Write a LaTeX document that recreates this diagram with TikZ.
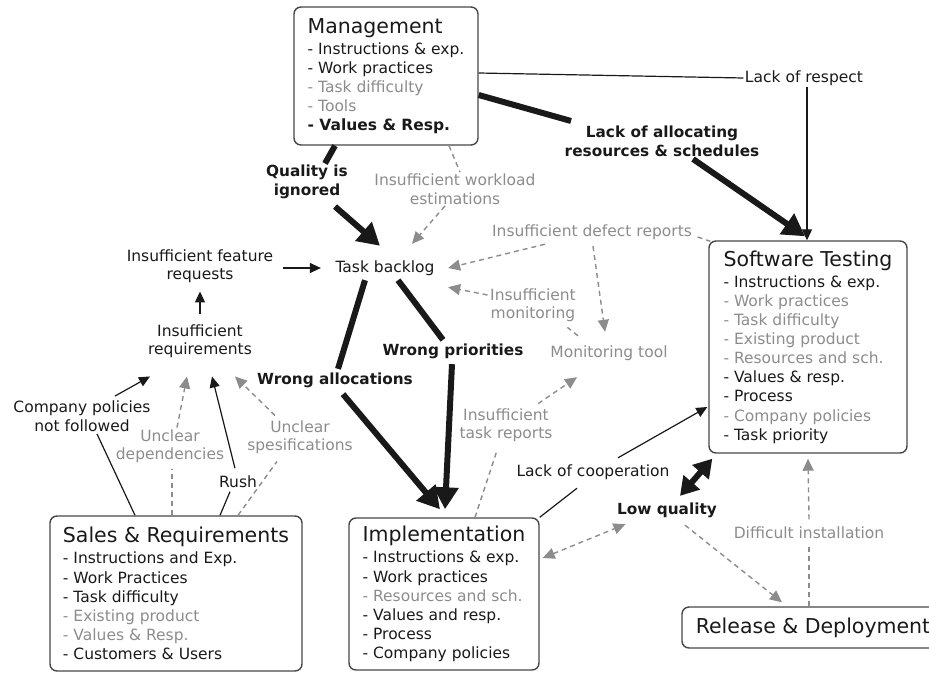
\documentclass[tikz,border=0pt]{standalone}
\usepackage{fontspec}
\setmainfont{DejaVu Sans}
\usetikzlibrary{arrows.meta,calc}

\definecolor{ink}{RGB}{25,25,25}
\definecolor{soft}{RGB}{140,140,140}
\definecolor{frame}{RGB}{70,70,70}

\begin{document}
\begin{tikzpicture}[x=1pt,y=-1pt,
  box/.style={draw=frame, line width=1.4pt, rounded corners=7pt, align=left,
    inner sep=0pt, text=ink, font=\fontsize{15.5}{19.1}\selectfont},
  lbl/.style={align=center, inner sep=1.5pt, text=ink, font=\fontsize{15.5}{18.5}\selectfont},
  glbl/.style={lbl, text=soft},
  blbl/.style={align=center, inner sep=1.5pt, text=ink, font=\fontsize{15.3}{18.8}\selectfont\bfseries},
  thin/.style={draw=ink, line width=1.2pt},
  thinarr/.style={thin, -{Triangle[length=11pt,width=10pt]}},
  gdash/.style={draw=soft, line width=1.4pt, dash pattern=on 5pt off 4pt},
  gdarr/.style={gdash, -{Triangle[length=12pt,width=11pt]}},
  gdboth/.style={gdash, {Triangle[length=12pt,width=11pt]}-{Triangle[length=12pt,width=11pt]}},
  heavy/.style={draw=ink, line width=6pt},
  heavyarr/.style={heavy, -{Triangle[length=22pt,width=24pt]}},
  heavyboth/.style={heavy, {Triangle[length=18pt,width=21pt]}-{Triangle[length=18pt,width=21pt]}}
]
\useasboundingbox (0,0) rectangle (929,672);

% ---- actor boxes ----
\node[box, minimum width=184pt, minimum height=138pt] (mgmt) at (386,76)
  {{\fontsize{20.5}{24}\selectfont Management}\\[2pt]
   - Instructions \& exp.\\
   - Work practices\\
   \textcolor{soft}{- Task difficulty}\\
   \textcolor{soft}{- Tools}\\
   \textbf{- Values \& Resp.}};

\node[box, minimum width=198pt, minimum height=212pt] (testing) at (808,347)
  {{\fontsize{20.5}{24}\selectfont Software Testing}\\[2pt]
   - Instructions \& exp.\\
   \textcolor{soft}{- Work practices}\\
   \textcolor{soft}{- Task difficulty}\\
   \textcolor{soft}{- Existing product}\\
   \textcolor{soft}{- Resources and sch.}\\
   - Values \& resp.\\
   - Process\\
   \textcolor{soft}{- Company policies}\\
   - Task priority};

\node[box, minimum width=252pt, minimum height=155pt] (sales) at (176,593.5)
  {{\fontsize{20.5}{24}\selectfont Sales \& Requirements}\\[2pt]
   - Instructions and Exp.\\
   - Work Practices\\
   - Task difficulty\\
   \textcolor{soft}{- Existing product}\\
   \textcolor{soft}{- Values \& Resp.}\\
   - Customers \& Users};

\node[box, minimum width=190pt, minimum height=152pt] (impl) at (444,594)
  {{\fontsize{20.5}{24}\selectfont Implementation}\\[2pt]
   - Instructions \& exp.\\
   - Work practices\\
   \textcolor{soft}{- Resources and sch.}\\
   - Values and resp.\\
   - Process\\
   - Company policies};

\node[box, minimum width=262pt, minimum height=41pt] (release) at (813,627.5)
  {{\fontsize{20.5}{24}\selectfont Release \& Deployment}};

% ---- issue labels ----
\node[lbl]  (respect)    at (804,78)  {Lack of respect};
\node[blbl] (alloc)      at (662,141) {Lack of allocating\\resources \& schedules};
\node[blbl] (quality)    at (307,182) {Quality is\\ignored};
\node[glbl] (workload)   at (455,189) {Insufficient workload\\estimations};
\node[lbl]  (backlog)    at (385,268) {Task backlog};
\node[lbl]  (feature)    at (200,266) {Insufficient feature\\requests};
\node[lbl]  (req)        at (200,341) {Insufficient\\requirements};
\node[glbl] (defect)     at (592,232) {Insufficient defect reports};
\node[glbl] (monitoring) at (533,305) {Insufficient\\monitoring};
\node[glbl] (montool)    at (609,353) {Monitoring tool};
\node[blbl] (wprio)      at (453,351) {Wrong priorities};
\node[blbl] (walloc)     at (335,380) {Wrong allocations};
\node[glbl] (taskrep)    at (506,425) {Insufficient\\task reports};
\node[lbl]  (coop)       at (593,472) {Lack of cooperation};
\node[blbl] (lowq)       at (667,510) {Low quality};
\node[glbl] (install)    at (809,533) {Difficult installation};
\node[lbl]  (cpol)       at (82,416)  {Company policies\\not followed};
\node[glbl] (udep)       at (170,446) {Unclear\\dependencies};
\node[lbl]  (rush)       at (238,482) {Rush};
\node[glbl] (uspec)      at (300,437) {Unclear\\spesifications};

% ---- management ----
\draw[thin] ($(mgmt.east)+(0,-3)$) -- (respect.west);
\coordinate (r1) at ($(respect.south)+(3,0)$);
\draw[thinarr] (r1) -- (r1 |- testing.north);
\draw[heavy] ($(mgmt.east)+(0,19)$) -- ($(alloc.north west)+(8,-3)$);
\draw[heavyarr] ($(alloc.south)+(31,1)$) -- ($(testing.north)+(-3,-4)$);
\draw[heavy] ($(mgmt.south)+(-51,0)$) -- ($(quality.north)+(18,0)$);
\draw[heavyarr] ($(quality.south)+(28,6)$) -- ($(backlog.north)+(-5,-13)$);
\draw[gdash] ($(mgmt.south)+(63,0)$) -- ($(workload.north)+(5,0)$);
\draw[gdarr] ($(workload.south)+(-10,0)$) -- ($(backlog.north)+(27,-15)$);

% ---- task backlog ----
\draw[thinarr] ($(feature.east)+(8,2)$) -- ($(backlog.west)+(-13,0)$);
\draw[thinarr] ($(req.north)+(0,-9)$) -- ($(feature.south)+(0,7)$);
\draw[heavy] ($(backlog.south)+(13,3)$) -- ($(wprio.north)+(-10,-2)$);
\draw[heavyarr] ($(wprio.south)+(-1,4)$) -- ($(impl.north)+(1,-8)$);
\draw[heavy] ($(backlog.south)+(-20,3)$) -- ($(walloc.north)+(3,-2)$);
\draw[heavyarr] ($(walloc.south)+(8,5)$) -- ($(impl.north)+(-4,-8)$);

% ---- reports and monitoring ----
\draw[gdash] ($(defect.east)+(4,5)$) -- ($(testing.north west)+(2,1)$);
\draw[gdarr] ($(defect.south)+(-47,3)$) -- ($(backlog.east)+(12,0)$);
\draw[gdarr] ($(defect.south)+(1,5)$) -- ($(montool.north)+(-4,-12)$);
\draw[gdash] ($(montool.north)+(-31,-8)$) -- ($(monitoring.south east)+(-10,4)$);
\draw[gdarr] ($(monitoring.west)+(-1,-10)$) -- ($(backlog.south east)+(12,10)$);
\draw[gdash] ($(impl.north)+(31,0)$) -- ($(taskrep.south)+(-9,7)$);
\draw[gdarr] ($(taskrep.north east)+(-16,-3)$) -- ($(montool.south)+(-32,15)$);

% ---- implementation and testing ----
\draw[thin] (impl.north east) -- ($(coop.south)+(-16,7)$);
\draw[thinarr] ($(coop.north)+(25,-5)$) -- ($(testing.west)+(-1,60)$);
\draw[heavyboth] ($(lowq.north)+(13,-5)$) -- ($(testing.south west)+(4,5)$);
\draw[gdboth] ($(impl.east)+(3,-36)$) -- ($(lowq.south west)+(10,5)$);
\draw[gdarr] ($(lowq.south)+(18,6)$) -- ($(release.north)+(-31,-4)$);
\draw[gdash] ($(release.north)+(-4,0)$) -- ($(install.south)+(0,6)$);
\draw[gdarr] ($(install.north)+(0,-6)$) -- ($(testing.south)+(0,5)$);

% ---- sales and requirements ----
\draw[thinarr] ($(cpol.north)+(33,-3)$) -- ($(req.south)+(-50,17)$);
\draw[thin] ($(sales.north)+(-41,0)$) -- ($(cpol.south)+(15,1)$);
\draw[gdash] ($(sales.north)+(-4,0)$) -- ($(udep.south)+(2,5)$);
\draw[gdarr] ($(udep.north)+(7,0)$) -- ($(req.south)+(-13,17)$);
\draw[thin] ($(sales.north)+(44,0)$) -- ($(rush.south)+(-8,2)$);
\draw[thinarr] ($(rush.north)+(-3,-6)$) -- ($(req.south)+(12,17)$);
\draw[gdash] ($(sales.north)+(62,0)$) -- ($(uspec.south)+(-23,6)$);
\draw[gdarr] ($(uspec.north)+(-25,-3)$) -- ($(req.south)+(35,17)$);
\end{tikzpicture}
\end{document}
